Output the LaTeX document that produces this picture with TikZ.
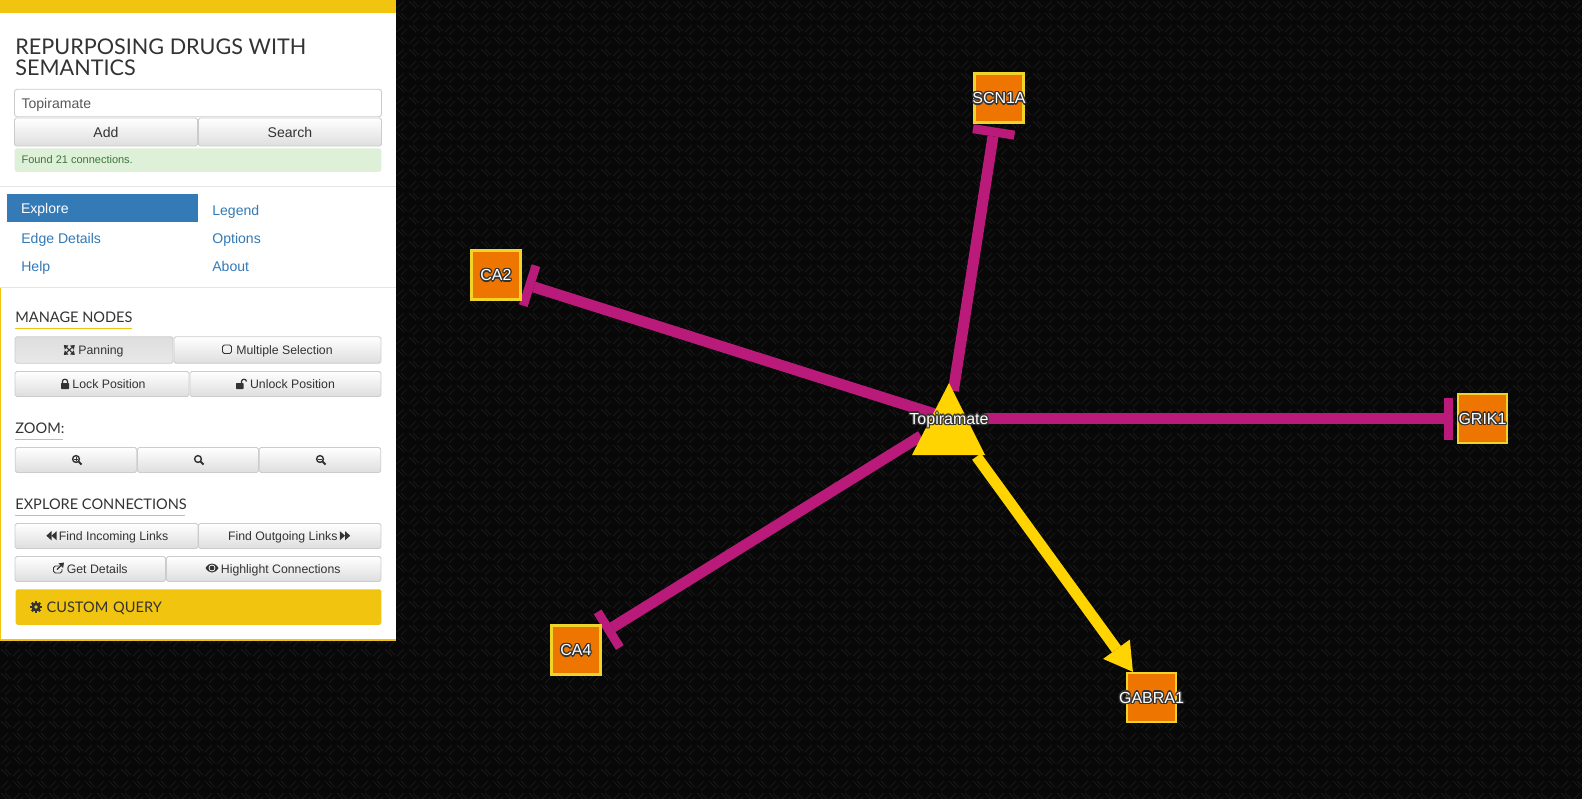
\documentclass[tikz,border=0pt]{standalone}
\usepackage{fontspec}
\setmainfont{Liberation Sans}
\newfontfamily\headfont{Lato}
\usepackage{tikz}
\usetikzlibrary{arrows.meta}
\pgfdeclarelayer{canvas}
\pgfdeclarelayer{edges}
\pgfsetlayers{canvas,edges,main}
\definecolor{my_black}{HTML}{080808}
\definecolor{my_weave}{HTML}{191919}
\definecolor{my_gold}{HTML}{F1C40F}
\definecolor{my_magenta}{HTML}{BA1B7A}
\definecolor{my_yellow}{HTML}{FFD400}
\definecolor{my_orange}{HTML}{EE7600}
\definecolor{my_border}{HTML}{F0D428}
\definecolor{my_blue}{HTML}{337AB7}
\definecolor{my_ink}{HTML}{333333}
\definecolor{my_grayline}{HTML}{CCCCCC}
\definecolor{my_rule}{HTML}{E5E5E5}
\definecolor{my_okfill}{HTML}{DFF0D8}
\definecolor{my_oktext}{HTML}{3C763D}
\newcommand{\halocopy}[3]{\makebox[0pt]{\hspace*{#1}\raisebox{#2}{\color{my_ink}#3}}}
\newcommand{\halotext}[1]{\makebox[0pt]{%
    \halocopy{1.5pt}{0pt}{#1}\halocopy{-1.5pt}{0pt}{#1}\halocopy{0pt}{0.75pt}{#1}\halocopy{0pt}{-0.75pt}{#1}%
    \halocopy{1.1pt}{0.55pt}{#1}\halocopy{-1.1pt}{0.55pt}{#1}\halocopy{1.1pt}{-0.55pt}{#1}\halocopy{-1.1pt}{-0.55pt}{#1}%
    \makebox[0pt]{\color{white}#1}}}
\newcommand{\iconroom}{\hspace*{0.28cm}}
\tikzset{
    bigfont/.style={font=\fontsize{8}{9.6}\selectfont, text height=5.7pt, text depth=0pt},
    smallfont/.style={font=\fontsize{7}{8.4}\selectfont, text height=5pt, text depth=0pt},
    navlink/.style={bigfont, text=my_blue, anchor=west, inner sep=0pt},
    panelbtn/.style={draw=my_grayline, line width=0.5pt, rounded corners=1pt, top color=white,
        bottom color=black!13, text=my_ink, inner sep=0pt, minimum height=0.5cm, smallfont},
    sectionhead/.style={anchor=west, inner sep=0pt, text=my_ink, text height=5.9pt, text depth=0pt,
        font=\headfont\fontsize{8.3}{10}\selectfont},
    headrule/.style={my_gold, line width=0.6pt},
    genebox/.style={draw=my_border, fill=my_orange, line width=1.3pt, minimum size=0.98cm,
        inner sep=0pt, text height=6.5pt, text depth=0pt, font=\fontsize{9.1}{11}\selectfont},
    druglabel/.style={inner sep=0pt, text height=6.5pt, text depth=0pt, font=\fontsize{9.1}{11}\selectfont},
    inhibits/.style={my_magenta, line width=0.22cm, shorten >=2.2pt,
        -{Rectangle[length=0.18cm, width=0.84cm, line width=0pt]}},
    activates/.style={my_yellow, line width=0.22cm,
        -{Triangle[length=0.56cm, width=0.66cm, line width=0pt]}},
    pics/lens/.style={code={
        \draw[my_ink, line width=0.8pt] (-1,-1) circle (3.4);
        \draw[my_ink, line width=1.1pt] (1.6,1.6) -- (4.6,4.6);
    }},
    pics/lensbar/.style={code={\draw[my_ink, line width=0.5pt] (-3,-1) -- (1,-1);}},
    pics/lensdash/.style={code={\draw[my_ink, line width=0.5pt] (-1,-3) -- (-1,1);}},
    pics/pan/.style={code={
        \draw[my_ink, line width=0.6pt, {Triangle[length=2.2pt, width=3pt]}-{Triangle[length=2.2pt, width=3pt]}] (-5.5,-5) -- (5.5,5);
        \draw[my_ink, line width=0.6pt, {Triangle[length=2.2pt, width=3pt]}-{Triangle[length=2.2pt, width=3pt]}] (-5.5,5) -- (5.5,-5);
    }},
    pics/padlock/.style={code={
        \fill[my_ink, rounded corners=0.4pt] (-4,-1) rectangle (4,5);
        \draw[my_ink, line width=0.7pt] (-2.6,-1) -- (-2.6,-2.5) .. controls (-2.6,-5.5) and (2.6,-5.5) .. (2.6,-2.5) -- (2.6,-1);
    }},
    pics/openlock/.style={code={
        \fill[my_ink, rounded corners=0.4pt] (-5.5,-1) rectangle (2,5);
        \draw[my_ink, line width=0.7pt] (0,-1) -- (0,-2.5) .. controls (0,-5.5) and (5,-5.5) .. (5,-2.5);
    }},
    pics/eye/.style={code={
        \fill[my_ink] (-6.5,0) .. controls (-3,-6) and (3,-6) .. (6.5,0) .. controls (3,6) and (-3,6) .. (-6.5,0) -- cycle;
        \fill[white] (0,0) circle (3.4);
        \fill[my_ink] (0,0) circle (2.4);
    }},
    pics/gear/.style={code={
        \foreach \spoke in {0,45,...,315}
            \draw[my_ink, line width=1.3pt] (0,0) -- (\spoke:6);
        \fill[my_ink] (0,0) circle (4.6);
        \fill[my_gold] (0,0) circle (1.8);
    }},
    pics/extlink/.style={code={
        \draw[my_ink, line width=0.5pt, rounded corners=1pt] (1,-2) -- (-5,-2) -- (-5,5) -- (3.5,5) -- (3.5,1);
        \draw[my_ink, line width=0.7pt, -{Triangle[length=2.6pt, width=3.6pt]}] (-1.5,1.5) -- (5.5,-5.5);
    }},
    pics/backward/.style={code={
        \fill[my_ink] (0,-4.6) -- (-5.2,0) -- (0,4.6) -- cycle;
        \fill[my_ink] (5.2,-4.6) -- (0,0) -- (5.2,4.6) -- cycle;
    }},
    pics/forward/.style={code={
        \fill[my_ink] (0,-4.6) -- (5.2,0) -- (0,4.6) -- cycle;
        \fill[my_ink] (-5.2,-4.6) -- (0,0) -- (-5.2,4.6) -- cycle;
    }}
}
\begin{document}
\begin{tikzpicture}[x=0.02cm, y=-0.02cm]

\useasboundingbox (0,0) rectangle (1582,798);

% Dark woven canvas behind everything
\begin{pgfonlayer}{canvas}
\fill[my_black] (-4,-4) rectangle (1586,802);
\foreach \col in {0,...,131}
    \foreach \row in {0,...,66} {
        \pgfmathtruncatemacro{\odd}{mod(\col+\row,2)}
        \pgfmathsetmacro{\px}{\col*12}
        \pgfmathsetmacro{\py}{\row*12}
        \ifnum\odd=0
            \draw[my_weave, line width=0.55pt] (\px+1,\py+1) -- (\px+8,\py+8) (\px+5,\py+1) -- (\px+11,\py+7);
        \else
            \draw[my_weave, line width=0.55pt] (\px+8,\py+1) -- (\px+1,\py+8) (\px+11,\py+5) -- (\px+5,\py+11);
        \fi
    }
\end{pgfonlayer}

% Drug triangle, under its label
\fill[my_yellow] (949,383) -- (985,455) -- (912,455) -- cycle;

% Graph nodes
\node[druglabel] (topiramate) at (949,418.5) {\halotext{Topiramate}};
\node[genebox] (scn1a) at (999,98) {\halotext{SCN1A}};
\node[genebox] (ca2) at (496,275) {\halotext{CA2}};
\node[genebox] (ca4) at (576,650) {\halotext{CA4}};
\node[genebox] (gabra1) at (1151.5,697.5) {\halotext{GABRA1}};
\node[genebox] (grik1) at (1482.5,418.5) {\halotext{GRIK1}};

% Graph edges sit under the nodes
\begin{pgfonlayer}{edges}
\draw[inhibits, shorten <=0.56cm] (topiramate.center) -- (scn1a);
\draw[inhibits, shorten <=0.3cm] (topiramate.center) -- (ca2);
\draw[inhibits, shorten <=0.66cm] (topiramate.center) -- (ca4);
\draw[inhibits, shorten <=0.7cm] (topiramate.center) -- (grik1);
\draw[activates, shorten <=0.94cm] (topiramate.center) -- (gabra1);
\end{pgfonlayer}

% Side panel
\fill[white] (0,0) rectangle (396,640);
\fill[my_gold] (0,0) rectangle (396,13);
\fill[my_gold] (0,288) rectangle (1.2,640);
\fill[my_gold] (0,639) rectangle (396,640.5);

% Title, search box and message
\node[anchor=west, inner sep=0pt, text=my_ink, font=\headfont\fontsize{12.3}{12}\selectfont, align=left]
    (title) at (15,57) {REPURPOSING DRUGS WITH\\SEMANTICS};
\node[draw=my_grayline, line width=0.5pt, rounded corners=1.5pt, minimum width=7.34cm, minimum height=0.55cm,
    inner xsep=0.14cm, inner ysep=0pt, bigfont, text=black!65] (searchbox) at (198,103)
    {\makebox[7.06cm][l]{Topiramate}};
\node[panelbtn, bigfont, minimum width=3.66cm, minimum height=0.56cm] (add) at (106,132) {Add};
\node[panelbtn, bigfont, minimum width=3.66cm, minimum height=0.56cm] (search) at (290,132) {Search};
\node[fill=my_okfill, rounded corners=1.5pt, minimum width=7.34cm, minimum height=0.47cm,
    inner xsep=0.14cm, inner ysep=0pt, font=\fontsize{6.26}{7.5}\selectfont, text height=4.5pt, text depth=0pt,
    text=my_oktext] (message) at (198,160) {\makebox[7.06cm][l]{Found 21 connections.}};

\draw[my_rule, line width=0.5pt] (0,186.5) -- (396,186.5);
\draw[my_rule, line width=0.5pt] (0,287.5) -- (396,287.5);

% Navigation
\node[fill=my_blue, minimum width=3.82cm, minimum height=0.56cm, inner xsep=0.28cm, inner ysep=0pt, bigfont, text=white]
    (explore) at (102.5,208) {\makebox[3.26cm][l]{Explore}};
\node[navlink] (legend) at (212,210) {Legend};
\node[navlink] (details) at (21,238) {Edge Details};
\node[navlink] (options) at (212,238) {Options};
\node[navlink] (help) at (21,266) {Help};
\node[navlink] (about) at (212,266) {About};

% Manage nodes
\node[sectionhead] (manage) at (15,317) {MANAGE NODES};
\draw[headrule] (15,328.5) -- (132,328.5);
\node[panelbtn, minimum width=3.16cm, minimum height=0.53cm, top color=black!13, bottom color=black!9] (panning) at (94,350) {\iconroom Panning};
\node[panelbtn, minimum width=4.14cm, minimum height=0.53cm] (multiple) at (277.5,350) {\iconroom Multiple Selection};
\node[panelbtn, minimum width=3.48cm] (lock) at (102,384) {\iconroom Lock Position};
\node[panelbtn, minimum width=3.82cm] (unlock) at (285.5,384) {\iconroom Unlock Position};
\pic at (69.3,350) {pan};
\draw[my_ink, line width=0.5pt, rounded corners=1pt] (222.5,345) rectangle (231.5,353.5);
\pic at (65,384) {padlock};
\pic at (241.5,384) {openlock};

% Zoom
\node[sectionhead] (zoomhead) at (15,428) {ZOOM:};
\draw[headrule] (15,439.5) -- (63,439.5);
\node[panelbtn, minimum width=2.43cm] (zoomin) at (76,460) {};
\node[panelbtn, minimum width=2.42cm] (zoomfit) at (198,460) {};
\node[panelbtn, minimum width=2.43cm] (zoomout) at (320,460) {};
\pic at (77,460) {lens};
\pic at (77,460) {lensbar};
\pic at (77,460) {lensdash};
\pic at (199,460) {lens};
\pic at (321,460) {lens};
\pic at (321,460) {lensbar};

% Explore connections
\node[sectionhead] (connhead) at (15,504) {EXPLORE CONNECTIONS};
\draw[headrule] (15,515.5) -- (185,515.5);
\node[panelbtn, minimum width=3.66cm] (incoming) at (106.5,536) {\iconroom Find Incoming Links};
\node[panelbtn, minimum width=3.65cm] (outgoing) at (289.75,536) {Find Outgoing Links\iconroom};
\node[panelbtn, minimum width=3.01cm] (getdetails) at (90.25,569) {\iconroom Get Details};
\node[panelbtn, minimum width=4.29cm] (highlight) at (273.75,569) {\iconroom Highlight Connections};
\pic at (51.5,535.7) {backward};
\pic at (345,535.7) {forward};
\pic at (58.5,568) {extlink};
\pic at (212,568) {eye};

% Custom query
\node[fill=my_gold, rounded corners=1pt, minimum height=0.71cm, text width=6.08cm, inner xsep=0.62cm, inner ysep=0pt,
    text=my_ink, text height=5.9pt, text depth=0pt, font=\headfont\fontsize{8.3}{10}\selectfont] (query) at (198.5,607) {CUSTOM QUERY};
\pic at (36,607) {gear};

\end{tikzpicture}
\end{document}
